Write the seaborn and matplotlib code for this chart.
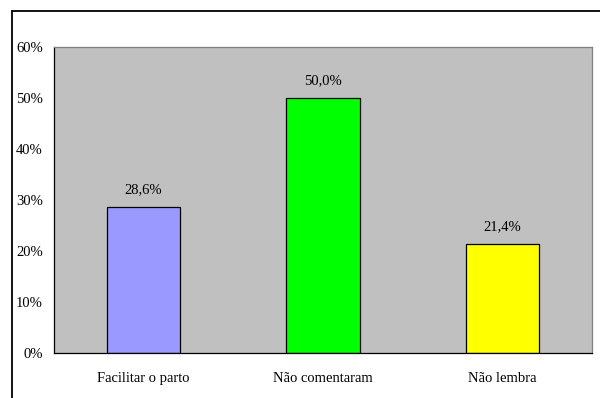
import matplotlib
matplotlib.use("Agg")
import matplotlib.pyplot as plt
from matplotlib.lines import Line2D
from matplotlib.ticker import FixedLocator, PercentFormatter
import seaborn as sns
import pandas as pd

# dados
categorias = ["Facilitar o parto", "Não comentaram", "Não lembra"]
valores = [28.6, 50.0, 21.4]
rotulos = ["28,6%", "50,0%", "21,4%"]
cores = ["#9999FF", "#00FF00", "#FFFF00"]

df = pd.DataFrame({"categoria": categorias, "valor": valores})

sns.set_style("white")
plt.rcParams["font.family"] = ["Liberation Serif", "DejaVu Serif"]
plt.rcParams["text.color"] = "black"
plt.rcParams["xtick.color"] = "black"
plt.rcParams["ytick.color"] = "black"

fig = plt.figure(figsize=(6, 3.98), dpi=100)
ax = fig.add_axes([54 / 600, 45 / 398, 538 / 600, 306 / 398])

sns.barplot(data=df, x="categoria", y="valor", hue="categoria", palette=cores,
            width=0.41, edgecolor="black", linewidth=0.9, legend=False, ax=ax,
            saturation=1)

ax.set_facecolor("#C0C0C0")
ax.set_xlim(-0.5, 2.5)
ax.set_ylim(0, 60)
ax.set_yticks(range(0, 61, 10))
ax.yaxis.set_major_formatter(PercentFormatter(decimals=0))
ax.set_xlabel("")
ax.set_ylabel("")

# marcas do eixo x entre as categorias
ax.tick_params(axis="x", which="major", length=0, labelsize=10.5, pad=14)
ax.xaxis.set_minor_locator(FixedLocator([-0.5, 0.5, 1.5, 2.5]))
ax.tick_params(axis="x", which="minor", length=4, width=0.8, direction="out")
ax.tick_params(axis="y", length=4, width=0.8, direction="out", labelsize=10.5, pad=4)

for side in ["left", "bottom"]:
    ax.spines[side].set_color("black")
    ax.spines[side].set_linewidth(0.9)
for side in ["top", "right"]:
    ax.spines[side].set_color("#808080")
    ax.spines[side].set_linewidth(0.9)

for cont, lab in zip(ax.containers, rotulos):
    ax.bar_label(cont, labels=[lab], padding=8, fontsize=10.5, color="black")

# moldura externa do gráfico
fig.add_artist(Line2D([12 / 600, 12 / 600], [0, 1 - 11 / 398], color="black", lw=1.3))
fig.add_artist(Line2D([12 / 600, 1], [1 - 11 / 398, 1 - 11 / 398], color="black", lw=1.3))

fig.savefig("out.png", dpi=100)
